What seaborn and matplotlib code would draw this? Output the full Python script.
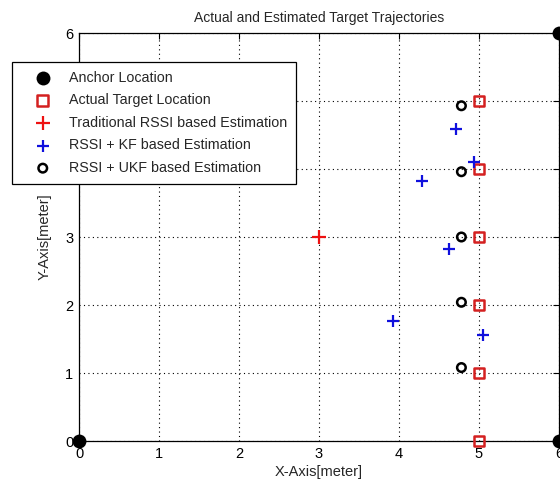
import matplotlib
matplotlib.use("Agg")
import matplotlib.pyplot as plt
import seaborn as sns
import pandas as pd

# Data
anchor_x = [0, 6, 6]
anchor_y = [0, 0, 6]
actual_x = [5, 5, 5, 5, 5, 5]
actual_y = [0, 1, 2, 3, 4, 5]
trad_x = [3.0]
trad_y = [3.0]
kf_x = [5.05, 3.92, 4.63, 4.29, 4.94, 4.71]
kf_y = [1.56, 1.76, 2.83, 3.82, 4.10, 4.59]
ukf_x = [4.78, 4.78, 4.78, 4.78, 4.78]
ukf_y = [1.08, 2.04, 3.00, 3.96, 4.93]
ticks = [0, 1, 2, 3, 4, 5, 6]

sns.set_style("white")
plt.rcParams['font.family'] = ['Liberation Sans', 'DejaVu Sans']

fig = plt.figure(figsize=(5.6, 4.86), dpi=100)
ax = fig.add_axes([79/560, 45/486, 480/560, 408/486])

sns.scatterplot(x=anchor_x, y=anchor_y, ax=ax, color='black', marker='o', s=100,
                edgecolor='black', linewidth=0, label='Anchor Location', zorder=5, clip_on=False)
sns.scatterplot(x=actual_x, y=actual_y, ax=ax, marker='s', s=60, facecolor='none',
                edgecolor='#d42020', linewidth=1.8, label='Actual Target Location', zorder=4, clip_on=False)
sns.scatterplot(x=trad_x, y=trad_y, ax=ax, marker='+', s=90, color='#ee1111',
                linewidth=1.6, label='Traditional RSSI based Estimation', zorder=4)
sns.scatterplot(x=kf_x, y=kf_y, ax=ax, marker='+', s=70, color='#1010dd',
                linewidth=1.6, label='RSSI + KF based Estimation', zorder=4)
sns.scatterplot(x=ukf_x, y=ukf_y, ax=ax, marker='o', s=38, facecolor='none',
                edgecolor='black', linewidth=1.8, label='RSSI + UKF based Estimation', zorder=4)

ax.set_xlim(0, 6)
ax.set_ylim(0, 6)
ax.set_xticks(ticks)
ax.set_yticks(ticks)
ax.set_xticklabels([str(t) for t in ticks], fontsize=10.5)
ax.set_yticklabels([str(t) for t in ticks], fontsize=10.5)
ax.grid(True, linestyle=(0, (1, 3)), color='black', linewidth=0.8)
ax.tick_params(direction='in', length=4, width=0.8, top=True, right=True,
               colors='black', pad=4)
for sp in ax.spines.values():
    sp.set_visible(True)
    sp.set_color('black')
    sp.set_linewidth(0.9)

ax.set_title('Actual and Estimated Target Trajectories', fontsize=10, pad=8)
ax.set_xlabel('X-Axis[meter]', fontsize=10.5, labelpad=3)
ax.set_ylabel('Y-Axis[meter]', fontsize=10.5, labelpad=10)

ax.get_legend().remove()
handles, labels = ax.get_legend_handles_labels()
leg = fig.legend(handles, labels, loc='upper left', bbox_to_anchor=(12/560, 1 - 62/486),
                 bbox_transform=fig.transFigure, fontsize=10.3, frameon=True, fancybox=False,
                 edgecolor='black', framealpha=1, borderpad=0.6, labelspacing=0.6,
                 handletextpad=0.3, handlelength=3.1, borderaxespad=0)
leg.get_frame().set_linewidth(0.9)

fig.savefig('out.png', dpi=100)
